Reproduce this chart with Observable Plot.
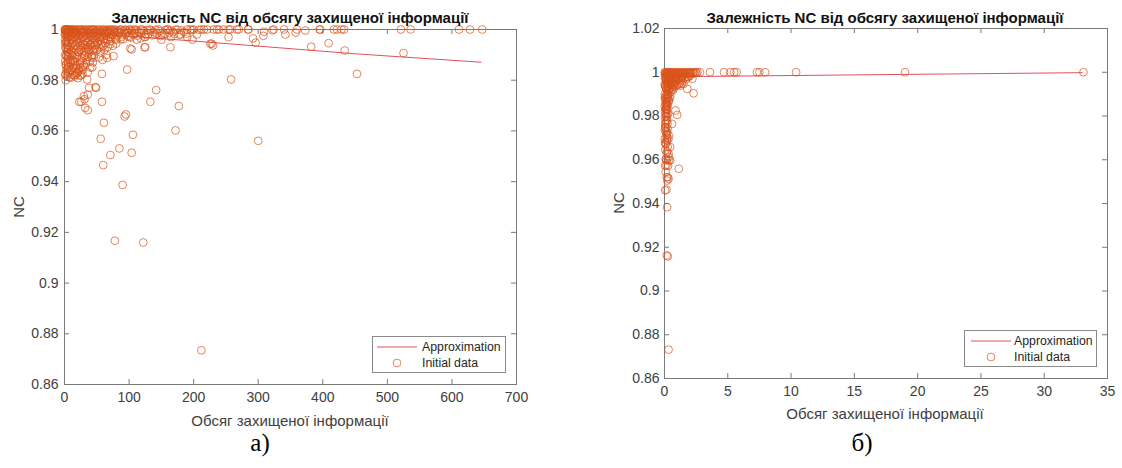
<!DOCTYPE html>
<html><head><meta charset="utf-8">
<script src="https://cdn.jsdelivr.net/npm/d3@7"></script>
<script src="https://cdn.jsdelivr.net/npm/@observablehq/plot@0.6"></script>
<style>
body{margin:0;background:#fff;width:1122px;height:468px;overflow:hidden;position:relative;font-family:"Liberation Sans",Arial,sans-serif;}
.panel{position:absolute;top:0;}
.txt{position:absolute;white-space:nowrap;transform:translate(-50%,-50%);}
.title{font-weight:bold;font-size:15px;color:#111;}
.xlab{font-size:15px;color:#404040;}
.ylab{font-size:15px;color:#404040;transform:translate(-50%,-50%) rotate(-90deg);}
.cap{font-family:"Liberation Serif","Times New Roman",serif;font-size:25px;color:#000;}
.legend{position:absolute;border:1px solid #8a8a8a;background:#fff;font-size:12.3px;color:#262626;box-sizing:border-box;}
.legend .row{position:absolute;left:0;height:16px;line-height:16px;}
</style></head>
<body>
<div id="left" class="panel" style="left:0"></div>
<div id="right" class="panel" style="left:561px"></div>
<script>
// ---- DATA ----
const titleText = "Залежність NC від обсягу захищеної інформації";
const xLabelText = "Обсяг захищеної інформації";
const yLabelText = "NC";
const legendLabels = ["Approximation", "Initial data"];
const captions = ["а)", "б)"];

const leftXTicks = [0, 100, 200, 300, 400, 500, 600, 700];
const leftXTickLabels = ["0", "100", "200", "300", "400", "500", "600", "700"];
const leftYTicks = [0.86, 0.88, 0.9, 0.92, 0.94, 0.96, 0.98, 1];
const leftYTickLabels = ["0.86", "0.88", "0.9", "0.92", "0.94", "0.96", "0.98", "1"];

const rightXTicks = [0, 5, 10, 15, 20, 25, 30, 35];
const rightXTickLabels = ["0", "5", "10", "15", "20", "25", "30", "35"];
const rightYTicks = [0.86, 0.88, 0.9, 0.92, 0.94, 0.96, 0.98, 1, 1.02];
const rightYTickLabels = ["0.86", "0.88", "0.9", "0.92", "0.94", "0.96", "0.98", "1", "1.02"];

// approximation line (a)
const leftApprox = [[0.5, 0.9992], [203, 0.9954], [451, 0.9904], [645, 0.9871]];
// approximation line (б)
const rightApprox = [[0.05, 0.998], [5, 0.9982], [15, 0.9988], [33, 0.9998]];

// initial data (a): [volume, NC]
const leftPoints = [
 [1,1],[2,1],[3,0.999],[4,1],[5,0.998],[6,1],[7,0.997],[8,0.999],[9,1],[10,0.996],
 [11,0.998],[12,1],[13,0.995],[14,0.999],[15,1],[16,0.997],[17,0.994],[18,0.999],[19,1],[20,0.996],
 [21,0.993],[22,0.998],[23,1],[24,0.995],[25,0.992],[26,0.999],[27,1],[28,0.997],[29,0.994],[30,0.999],
 [31,1],[32,0.996],[33,0.991],[34,0.998],[35,1],[36,0.995],[37,0.993],[38,0.999],[39,1],[40,0.997],
 [41,0.994],[42,1],[43,0.998],[44,0.992],[45,1],[46,0.996],[47,0.999],[48,0.994],[49,1],[50,0.998],
 [52,0.995],[54,1],[55,0.997],[57,0.999],[58,0.993],[60,1],[62,0.998],[64,0.996],[66,1],[68,0.999],
 [70,0.997],[72,1],[75,0.998],[78,1],[80,0.996],[83,0.999],[86,1],[90,0.998],[94,1],[98,0.999],
 [102,1],[106,0.998],[110,1],[115,0.999],[120,1],[126,0.998],[132,1],[138,0.999],[145,1],[152,0.998],
 [160,1],[168,0.999],[175,1],[185,0.999],
 [2,0.995],[3,0.99],[4,0.993],[5,0.988],[6,0.985],[7,0.991],[8,0.983],[9,0.987],[10,0.981],[11,0.99],
 [12,0.984],[13,0.988],[14,0.986],[15,0.982],[16,0.99],[18,0.985],[19,0.989],[20,0.983],[22,0.991],[24,0.987],
 [26,0.982],[27,0.989],[28,0.984],[30,0.986],[32,0.99],[34,0.988],[36,0.983],[38,0.991],[40,0.985],[42,0.989],
 [44,0.987],[46,0.99],[50,0.992],[53,0.989],[56,0.991],[59,0.988],[62,0.992],[65,0.99],
 [0.5,1],[0.5,0.998],[1,0.996],[1.5,0.993],[2,0.999],[3,0.997],[4,0.995],[1,0.99],[2,0.986],[3,0.984],[1,0.982],[2,0.98],
 [100,0.997],[112,0.996],[125,0.997],[140,0.998],[150,0.996],[165,0.997],[178,0.998],[190,0.997],[198,0.996],[200,1],[205,0.998],[212,1],
 [102,0.9925],[125,0.993],[164,0.993],[97,0.9842],[142,0.9761],[133,0.9715],[177,0.9698],[58,0.9715],[58,0.9825],[35,0.9803],
 [38,0.977],[48,0.9773],[30,0.9737],[26,0.9715],[32,0.9691],[17,0.9823],[22,0.9836],[25,0.985],[43,0.985],[66,0.9888],
 [76,0.9895],[45,0.9888],[14,0.9875],[87,0.9961],[71,0.9954],[118,0.9965],[149,0.9974],[180,0.998],[195,1],[159,1],
 [23,0.9715],[31,0.9725],[36,0.9682],[61,0.9632],[95,0.9665],[93,0.9657],[56,0.9569],[106,0.9585],[172,0.9602],[300,0.9561],
 [85,0.9531],[71,0.9505],[104,0.9514],[60,0.9465],[90,0.9387],[78,0.9167],[122,0.916],[212,0.8735],[49,0.977],[36,0.9743],
 [104,0.9921],[124,0.993],[226,0.9944],[230,0.9937],[258,0.9803],[453,0.9825],
 [221,1],[236,1],[254,1],[267,1],[284,1],[309,0.9991],[322,0.9997],[340,1],[342,0.998],[358,0.9988],
 [373,0.9996],[395,1],[409,0.9946],[422,1],[429,1],[434,0.9917],[382,0.9932],[254,0.997],[292,0.9965],[296,0.9948],
 [228,0.9944],[231,1],[239,1],[257,1],[270,1],[285,1],[308,0.9975],[324,1],[360,1],[396,1],
 [417,1],[433,1],[521,1],[536,1],[611,1],[628,1],[647,1],[525,0.9907],
 // dense band along the top
 [1.5,0.9995],[2.5,1],[3.5,0.9992],[4.5,0.9998],[5.5,0.9994],[6.5,0.9999],[7.5,0.9991],[8.5,0.9996],[9.5,0.9993],[11.5,0.9999],
 [13.5,0.9992],[15.5,0.9997],[17.5,0.9994],[19.5,0.9998],[21.5,0.9991],[23.5,0.9996],[25.5,0.9999],[28.5,0.9993],[31.5,0.9997],[34.5,0.9992],
 [37.5,0.9998],[40.5,0.9994],[44.5,0.9999],[48.5,0.9993],[51,0.9997],[53,0.9991],[56,0.9998],[59,0.9994],[61,0.9999],[63,0.9992],
 [65,0.9996],[67,0.9993],[69,0.9998],[71,0.9995],[74,0.9999],[77,0.9993],[81,0.9997],[84,0.9995],[88,0.9999],[92,0.9994],
 [96,0.9997],[100,0.9999],[104,0.9995],[108,0.9998],[113,0.9996],[118,0.9999],[123,0.9994],[128,0.9998],[134,0.9996],[141,0.9999],
 [148,0.9995],[156,0.9998],[164,0.9996],[172,0.9999],[181,0.9997],[190,1],[198,0.9998],[208,0.9999],[216,1],[246,1],
 // second layer
 [1,0.9985],[3,0.9978],[5,0.9968],[7,0.9982],[9,0.9975],[11,0.9962],[13,0.9983],[15,0.9972],[17,0.9958],[19,0.9981],
 [21,0.9969],[23,0.9977],[25,0.9963],[27,0.9985],[29,0.9971],[31,0.9955],[33,0.9979],[35,0.9966],[37,0.9984],[39,0.9959],
 [41,0.9976],[43,0.9964],[45,0.9982],[47,0.9961],[49,0.9974],[51,0.9985],[53,0.9968],[55,0.9957],[57,0.9979],[59,0.9972],
 [61,0.9963],[63,0.9984],[65,0.9975],[67,0.9961],[69,0.9982],[72,0.9969],[74,0.9978],[77,0.9986],[79,0.9965],[82,0.9977],
 [85,0.9984],[88,0.9971],[91,0.9962],[95,0.9981],[99,0.9975],[103,0.9968],[108,0.9983],[113,0.9976],[119,0.9986],[124,0.9971],
 [130,0.9982],[136,0.9977],[143,0.9984],[155,0.9981],[162,0.9986],[170,0.9982],[188,0.9984],
 // third layer
 [1,0.9945],[2,0.9925],[3,0.9952],[4,0.9912],[5,0.9938],[6,0.9921],[7,0.9947],[8,0.9905],[9,0.9932],[10,0.9918],
 [12,0.9942],[14,0.9909],[16,0.9936],[18,0.9922],[20,0.9948],[22,0.9911],[24,0.9934],[26,0.9927],[28,0.9944],[30,0.9915],
 [32,0.9938],[34,0.9925],[36,0.9949],[38,0.9918],[40,0.9941],[42,0.9931],[44,0.9946],[46,0.9922],[48,0.9937],[51,0.9944],
 [54,0.9928],[57,0.9941],[60,0.9935],[63,0.9946],[67,0.9931],[71,0.9942],[75,0.9936],[80,0.9944],
 // lower cluster
 [1,0.9875],[2,0.9862],[3,0.9895],[4,0.9845],[5,0.9868],[6,0.9892],[7,0.9855],[8,0.9878],[9,0.9841],[10,0.9866],
 [12,0.9896],[14,0.9848],[16,0.9872],[18,0.9858],[20,0.9894],[22,0.9843],[24,0.9861],[26,0.9877],[28,0.9852],[30,0.9897],
 [33,0.9865],[36,0.9892],[39,0.9874],[42,0.9896],[2,0.9825],[4,0.9818],[6,0.9832],[8,0.9812],[12,0.9822],[16,0.9815],
 [20,0.9828],[24,0.9818],[28,0.9826],[21,0.9808]
];

// initial data (б): [volume, NC]
const rightPoints = [
 [0.02,1],[0.05,0.999],[0.08,0.998],[0.1,1],[0.12,0.997],[0.15,0.996],[0.18,0.999],[0.2,0.995],[0.22,1],[0.25,0.994],
 [0.28,0.998],[0.3,0.993],[0.32,1],[0.35,0.997],[0.38,0.992],[0.4,0.999],[0.45,0.996],[0.5,1],[0.55,0.998],[0.6,0.995],
 [0.65,1],[0.7,0.997],[0.75,0.999],[0.8,0.994],[0.85,1],[0.9,0.998],[0.95,0.996],[1.0,1],[1.05,0.999],[1.1,0.997],
 [1.15,1],[1.2,0.995],[1.25,0.999],[1.3,1],[1.35,0.998],[1.4,0.996],[1.5,1],[1.6,0.999],[1.7,1],[1.8,0.998],
 [1.9,1],[2.0,0.999],[2.1,1],[2.2,0.997],[2.3,1],[2.45,1],[2.6,1],
 [0.03,0.99],[0.06,0.988],[0.1,0.986],[0.12,0.984],[0.05,0.982],[0.15,0.98],[0.08,0.978],[0.2,0.99],[0.25,0.988],[0.18,0.992],
 [0.04,0.994],[0.1,0.993],[0.3,0.99],[0.22,0.985],[0.14,0.983],[0.06,0.975],[0.12,0.973],[0.2,0.97],[0.08,0.967],[0.16,0.963],
 [0.1,0.96],[0.28,0.981],[0.35,0.987],[0.5,0.991],[0.6,0.993],[0.45,0.989],[0.7,0.992],
 [2.8,1],[3.6,1],[4.7,1],[5.2,1],[5.5,1],[5.7,1],[7.3,1],[7.5,1],[7.95,1],[10.4,1],[19,1],[33.1,1],
 [2.3,0.9904],[1.8,0.9924],[1.5,0.9947],[0.87,0.9955],[1.0,0.9805],[0.87,0.9825],[0.6,0.9764],[1.13,0.9559],[0.34,0.9597],
 [0.21,0.9383],[0.16,0.9463],[0.21,0.9505],[0.26,0.952],[0.16,0.9574],[0.34,0.9612],[0.26,0.9658],[0.16,0.9688],[0.34,0.9711],
 [0.21,0.9726],[0.08,0.9749],[0.21,0.978],[0.16,0.981],[0.16,0.9833],[0.21,0.9856],[0.16,0.9879],
 [0.05,0.946],[0.18,0.9163],[0.26,0.9158],[0.32,0.8732],[0.05,0.9574],[0.18,0.952],[0.32,0.9513],[0.45,0.9597],[0.18,0.9597],
 [0.32,0.9627],[0.45,0.9658],[0.05,0.968],[0.32,0.9696],[0.18,0.9719],[0.05,0.9764],
 // dense blob
 [0.07,0.9995],[0.13,0.9992],[0.19,0.9997],[0.27,0.9993],[0.33,0.9998],[0.42,0.9994],[0.48,0.9991],[0.57,0.9997],[0.63,0.9993],[0.72,0.9998],
 [0.78,0.9992],[0.88,0.9996],[0.97,0.9991],[1.08,0.9997],[1.18,0.9993],[1.28,0.9998],[1.38,0.9992],[1.45,0.9997],[1.55,0.9994],[1.65,0.9998],
 [1.75,0.9993],[1.85,0.9997],[1.95,0.9995],[2.05,0.9998],[2.15,0.9994],[2.25,0.9997],[2.38,0.9995],[2.52,0.9998],
 [0.04,0.9975],[0.11,0.9965],[0.17,0.9978],[0.24,0.9958],[0.31,0.9972],[0.37,0.9962],[0.43,0.9981],[0.52,0.9968],[0.58,0.9977],[0.67,0.9955],
 [0.74,0.9973],[0.82,0.9962],[0.92,0.9979],[1.02,0.9968],[1.12,0.9981],[1.22,0.9972],[1.32,0.9965],[1.42,0.9982],[1.58,0.9975],[1.72,0.9969],
 [1.88,0.9978],[2.02,0.9983],
 [0.02,0.9945],[0.08,0.9935],[0.14,0.9922],[0.2,0.9948],[0.26,0.9931],[0.33,0.9918],[0.4,0.9942],[0.47,0.9927],[0.55,0.9938],[0.63,0.9922],
 [0.72,0.9946],[0.84,0.9935],[0.96,0.9941],[1.1,0.9944],[1.25,0.9939],[1.36,0.9948],
 [0.03,0.9885],[0.09,0.9872],[0.13,0.9893],[0.19,0.9861],[0.23,0.9878],[0.27,0.9895],[0.33,0.9868],[0.4,0.9882],[0.02,0.9845],[0.07,0.9832],
 [0.11,0.9852],[0.19,0.9826],[0.24,0.9841],[0.04,0.9795],[0.1,0.9812],[0.13,0.9772],[0.18,0.9795],[0.24,0.9765],[0.03,0.9735],[0.09,0.9745],
 [0.14,0.9712],[0.25,0.9742],[0.02,0.9695],[0.11,0.9675],[0.22,0.9688],[0.07,0.9645],[0.2,0.9638],[0.12,0.9605],[0.28,0.9572],[0.09,0.9545]
];

// ---- STYLE ----
const dotColor = "#D95319";
const lineColor = "#E0505C";
const frameColor = "#7a7a7a";

function panel(o) {
  const W = 561, H = 468;
  const ph = H - o.mt - o.mb, pw = W - o.ml - o.mr;
  return Plot.plot({
    width: W, height: H,
    marginLeft: o.ml, marginRight: o.mr, marginTop: o.mt, marginBottom: o.mb,
    style: {fontFamily: '"Liberation Sans", Arial, sans-serif', fontSize: "14px", color: "#404040", background: "transparent", overflow: "visible"},
    x: {domain: o.xDomain},
    y: {domain: o.yDomain},
    marks: [
      Plot.frame({stroke: frameColor}),
      Plot.tickX(o.xTicks, {x: d => d, stroke: frameColor, insetTop: ph - 5}),
      Plot.tickX(o.xTicks, {x: d => d, stroke: frameColor, insetBottom: ph - 5}),
      Plot.tickY(o.yTicks, {y: d => d, stroke: frameColor, insetRight: pw - 5}),
      Plot.tickY(o.yTicks, {y: d => d, stroke: frameColor, insetLeft: pw - 5}),
      Plot.axisX(o.xTicks, {tickSize: 0, tickPadding: o.xPad, label: null, fill: "#404040", tickFormat: (d) => o.xLabels[o.xTicks.indexOf(d)]}),
      Plot.axisY(o.yTicks, {tickSize: 0, tickPadding: o.yPad, label: null, fill: "#404040", tickFormat: (d) => o.yLabels[o.yTicks.indexOf(d)]}),
      Plot.line(o.approx, {x: d => d[0], y: d => d[1], stroke: lineColor, strokeWidth: 1}),
      Plot.dot(o.points, {x: d => d[0], y: d => d[1], r: 3.9, stroke: dotColor, strokeWidth: 1, strokeOpacity: 0.7, fill: "none"})
    ]
  });
}

document.getElementById("left").append(panel({
  ml: 64, mr: 45, mt: 29, mb: 84, xDomain: [0, 700], yDomain: [0.86, 1],
  xTicks: leftXTicks, xLabels: leftXTickLabels, yTicks: leftYTicks, yLabels: leftYTickLabels,
  xPad: 8, yPad: 6, approx: leftApprox, points: leftPoints
}));
document.getElementById("right").append(panel({
  ml: 103, mr: 15, mt: 28, mb: 90, xDomain: [0, 35], yDomain: [0.86, 1.02],
  xTicks: rightXTicks, xLabels: rightXTickLabels, yTicks: rightYTicks, yLabels: rightYTickLabels,
  xPad: 8, yPad: 5, approx: rightApprox, points: rightPoints
}));

function addText(cls, text, x, y) {
  const d = document.createElement("div");
  d.className = "txt " + cls; d.textContent = text;
  d.style.left = x + "px"; d.style.top = y + "px";
  document.body.append(d);
}
addText("title", titleText, 290, 17);
addText("title", titleText, 885, 17);
addText("xlab", xLabelText, 290, 420);
addText("xlab", xLabelText, 885, 413);
addText("ylab", yLabelText, 18, 207);
addText("ylab", yLabelText, 618, 203);
addText("cap", captions[0], 260, 443);
addText("cap", captions[1], 862, 443);

function addLegend(left, top, w, h, lineX0, lineX1, textX, row1, row2) {
  const box = document.createElement("div");
  box.className = "legend";
  Object.assign(box.style, {left: left + "px", top: top + "px", width: w + "px", height: h + "px"});
  const ns = "http://www.w3.org/2000/svg";
  const svg = document.createElementNS(ns, "svg");
  svg.setAttribute("width", w); svg.setAttribute("height", h);
  svg.style.position = "absolute"; svg.style.left = "-1px"; svg.style.top = "-1px";
  const ln = document.createElementNS(ns, "line");
  ln.setAttribute("x1", lineX0); ln.setAttribute("x2", lineX1);
  ln.setAttribute("y1", row1); ln.setAttribute("y2", row1);
  ln.setAttribute("stroke", lineColor); ln.setAttribute("stroke-width", 1);
  svg.append(ln);
  const c = document.createElementNS(ns, "circle");
  c.setAttribute("cx", (lineX0 + lineX1) / 2); c.setAttribute("cy", row2); c.setAttribute("r", 3.9);
  c.setAttribute("fill", "none"); c.setAttribute("stroke", dotColor); c.setAttribute("stroke-opacity", 0.7);
  svg.append(c);
  box.append(svg);
  [[legendLabels[0], row1], [legendLabels[1], row2]].forEach(([t, y]) => {
    const r = document.createElement("div");
    r.className = "row"; r.textContent = t;
    r.style.left = (textX - 1) + "px"; r.style.top = (y - 9) + "px";
    box.append(r);
  });
  document.body.append(box);
}
addLegend(372, 336, 134, 37, 5, 45, 50, 11, 27);
addLegend(964, 330, 133, 37, 7, 47, 50, 11, 27);
</script>
</body></html>
